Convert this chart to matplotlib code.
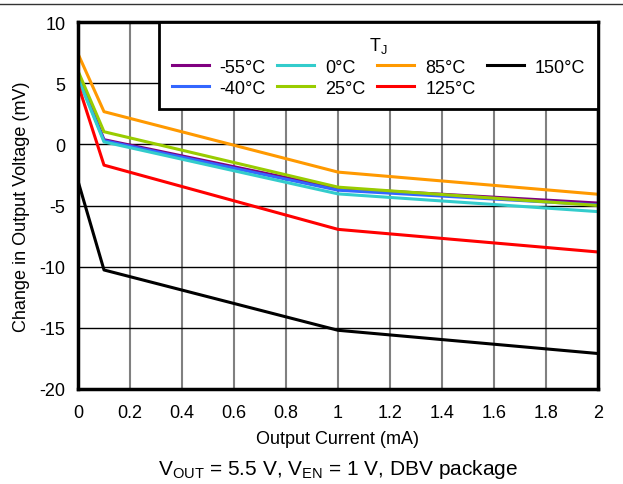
import matplotlib
matplotlib.use("Agg")
import matplotlib.pyplot as plt
from matplotlib.lines import Line2D

plt.rcParams['font.family'] = ['Liberation Sans', 'DejaVu Sans']
plt.rcParams['mathtext.fontset'] = 'custom'
plt.rcParams['mathtext.rm'] = 'Liberation Sans'
plt.rcParams['mathtext.it'] = 'Liberation Sans'
plt.rcParams['axes.unicode_minus'] = False

current_mA = [0, 0.1, 1, 2]
labels = ['-55°C', '-40°C', '0°C', '25°C', '85°C', '125°C', '150°C']
v_m55 = [5.7, 0.38, -3.6, -4.8]
v_m40 = [5.5, 0.3, -3.75, -4.95]
v_0 = [5.4, 0.2, -4.05, -5.5]
v_25 = [6.0, 1.03, -3.5, -5.0]
v_85 = [7.4, 2.67, -2.27, -4.08]
v_125 = [4.9, -1.7, -6.95, -8.8]
v_150 = [-3.0, -10.27, -15.2, -17.1]
colors = ['#800080', '#3366FF', '#33CCCC', '#99CC00', '#FF9900', '#FF0000', '#000000']
series = [v_m55, v_m40, v_0, v_25, v_85, v_125, v_150]

xticks = [0, 0.2, 0.4, 0.6, 0.8, 1, 1.2, 1.4, 1.6, 1.8, 2]
xticklabels = ['0', '0.2', '0.4', '0.6', '0.8', '1', '1.2', '1.4', '1.6', '1.8', '2']
yticks = [-20, -15, -10, -5, 0, 5, 10]

fig = plt.figure(figsize=(6.23, 4.85), dpi=100)
ax = fig.add_axes([78/623, 1-390/485, 520/623, 367/485])

for vals, lab, c in zip(series, labels, colors):
    ax.plot(current_mA, vals, color=c, lw=2.2, label=lab, solid_joinstyle='round')

ax.set_xlim(0, 2)
ax.set_ylim(-20, 10)
ax.set_xticks(xticks)
ax.set_xticklabels(xticklabels)
ax.set_yticks(yticks)
ax.tick_params(length=0, labelsize=13)
ax.tick_params(axis='x', pad=11)
ax.tick_params(axis='y', pad=9)
ax.xaxis.grid(True, color='#808080', lw=1.5)
ax.yaxis.grid(True, color='#000000', lw=1.0)
ax.set_axisbelow(True)
for s in ax.spines.values():
    s.set_linewidth(2.5)
    s.set_color('black')

ax.set_xlabel('Output Current (mA)', fontsize=13, labelpad=6)
ax.set_ylabel('Change in Output Voltage (mV)', fontsize=13, labelpad=7)

leg = ax.legend(loc='upper right', bbox_to_anchor=(1, 1), ncol=4, fontsize=13,
                title=r'$\mathregular{T_J}$', title_fontsize=13,
                fancybox=False, framealpha=1, edgecolor='black', borderaxespad=0,
                handlelength=2.05, columnspacing=0.65, handletextpad=0.6,
                labelspacing=0.22, borderpad=0.7)
leg.get_frame().set_linewidth(2.0)

fig.text(338/623, 1-470/485,
         r'$\mathregular{V_{OUT}}$ = 5.5 V, $\mathregular{V_{EN}}$ = 1 V, DBV package',
         ha='center', va='center', fontsize=15)

fig.add_artist(Line2D([0, 1], [1-5/485, 1-5/485], color='#333333', lw=1.0,
                      transform=fig.transFigure))

fig.savefig('out.png', dpi=100)
